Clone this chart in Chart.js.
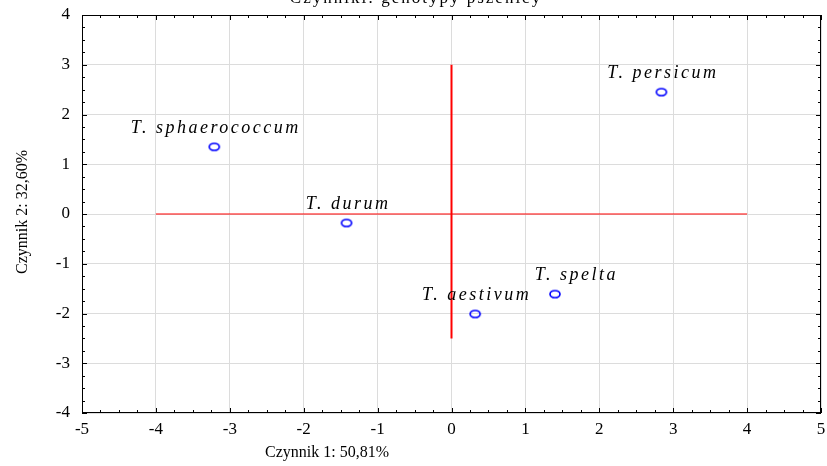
<!DOCTYPE html>
<html>
<head>
<meta charset="utf-8">
<script src="https://cdn.jsdelivr.net/npm/chart.js@4.4.0/dist/chart.umd.min.js"></script>
<style>
  html, body { margin: 0; padding: 0; background: #fff; }
  #wrap { width: 827px; height: 466px; }
</style>
</head>
<body>
<div id="wrap"><canvas id="pcaChart"></canvas></div>
<script>
// genotypes projected on factor plane
const names = ['T. sphaerococcum', 'T. durum', 'T. aestivum', 'T. spelta', 'T. persicum'];
const factor1 = [-3.21, -1.42, 0.32, 1.40, 2.84];
const factor2 = [1.35, -0.18, -2.01, -1.61, 2.45];

// red reference cross
const crossHX = [-4, 4];
const crossHY = [0, 0];
const crossVX = [0, 0];
const crossVY = [3, -2.5];

const xTicks = [-5, -4, -3, -2, -1, 0, 1, 2, 3, 4, 5];
const yTicks = [-4, -3, -2, -1, 0, 1, 2, 3, 4];

const titleText = 'Czynniki: genotypy pszenicy';
const xTitle = 'Czynnik 1: 50,81%';
const yTitle = 'Czynnik 2: 32,60%';

const serif = '"Liberation Serif", "Times New Roman", serif';

function ringImage() {
    const c = document.createElement('canvas');
    c.width = 14; c.height = 11;
    const g = c.getContext('2d');
    g.strokeStyle = '#0000ff';
    g.lineWidth = 1.7;
    g.beginPath();
    g.ellipse(7, 5.5, 5, 3.5, 0, 0, Math.PI * 2);
    g.stroke();
    return c;
}

// frame with inward ticks, titles
const framePlugin = {
    id: 'frame',
    beforeDatasetsDraw(chart) {
        const { ctx, chartArea: a, scales } = chart;
        ctx.save();
        ctx.strokeStyle = '#000';
        ctx.lineWidth = 1;
        ctx.strokeRect(a.left + 0.5, a.top + 0.5, a.right - a.left - 1, a.bottom - a.top - 1);
        ctx.beginPath();
        for (let v = -5; v <= 5.001; v += 0.25) {
            const px = Math.round(scales.x.getPixelForValue(v)) + 0.5;
            const len = Math.abs(v - Math.round(v)) < 1e-6 ? 5 : 3;
            ctx.moveTo(px, a.bottom); ctx.lineTo(px, a.bottom - len);
            ctx.moveTo(px, a.top); ctx.lineTo(px, a.top + len);
        }
        for (let v = -4; v <= 4.001; v += 0.25) {
            const py = Math.round(scales.y.getPixelForValue(v)) + 0.5;
            const len = Math.abs(v - Math.round(v)) < 1e-6 ? 5 : 3;
            ctx.moveTo(a.left, py); ctx.lineTo(a.left + len, py);
            ctx.moveTo(a.right, py); ctx.lineTo(a.right - len, py);
        }
        ctx.stroke();
        ctx.restore();
    },
    afterDraw(chart) {
        const { ctx } = chart;
        ctx.save();
        ctx.fillStyle = '#000';
        ctx.font = '17px ' + serif;
        ctx.textAlign = 'center';
        ctx.textBaseline = 'alphabetic';
        ctx.letterSpacing = '2px';
        ctx.fillText(titleText, 416, 3);
        ctx.font = '16px ' + serif;
        ctx.letterSpacing = '0px';
        ctx.fillText(xTitle, 327, 457);
        ctx.translate(23, 212);
        ctx.rotate(-Math.PI / 2);
        ctx.textBaseline = 'middle';
        ctx.fillText(yTitle, 0, 0);
        ctx.restore();
    }
};

// italic genotype names above their points
const labelShift = { 'T. spelta': 20 };
const labelPlugin = {
    id: 'pointNames',
    afterDatasetsDraw(chart) {
        const { ctx } = chart;
        const meta = chart.getDatasetMeta(0);
        ctx.save();
        ctx.fillStyle = '#000';
        ctx.font = 'italic 18px ' + serif;
        ctx.letterSpacing = '2.5px';
        ctx.textAlign = 'center';
        ctx.textBaseline = 'alphabetic';
        meta.data.forEach((pt, i) => {
            const dx = labelShift[names[i]] || 0;
            ctx.fillText(names[i], pt.x + dx + 1.5, pt.y - 14);
        });
        ctx.restore();
    }
};

const noPad = s => { s.paddingLeft = 0; s.paddingRight = 0; s.paddingTop = 0; s.paddingBottom = 0; };

const ctx = document.getElementById('pcaChart');
new Chart(ctx, {
    type: 'scatter',
    data: {
        datasets: [
            {
                label: 'genotypy',
                data: factor1.map((x, i) => ({ x: x, y: factor2[i] })),
                pointStyle: ringImage(),
                pointRadius: 5,
                order: 0
            },
            {
                label: 'osH',
                data: crossHX.map((x, i) => ({ x: x, y: crossHY[i] })),
                showLine: true,
                borderColor: '#ff0000',
                borderWidth: 1.2,
                pointRadius: 0,
                order: 2
            },
            {
                label: 'osV',
                data: crossVX.map((x, i) => ({ x: x, y: crossVY[i] })),
                showLine: true,
                borderColor: '#ff0000',
                borderWidth: 2,
                pointRadius: 0,
                order: 1
            }
        ]
    },
    options: {
        responsive: true,
        maintainAspectRatio: false,
        animation: false,
        events: [],
        layout: { padding: { top: 15, right: 3, left: 0, bottom: 0 } },
        plugins: {
            legend: { display: false },
            tooltip: { enabled: false }
        },
        scales: {
            x: {
                type: 'linear',
                min: -5,
                max: 5,
                afterBuildTicks: s => { s.ticks = xTicks.map(v => ({ value: v })); },
                afterFit: s => { s.height = 53; noPad(s); },
                ticks: { color: '#000', font: { family: serif, size: 17 }, padding: 6, maxRotation: 0 },
                grid: { color: '#dcdcdc', drawTicks: false },
                border: { display: false }
            },
            y: {
                type: 'linear',
                min: -4,
                max: 4,
                afterBuildTicks: s => { s.ticks = yTicks.map(v => ({ value: v })); },
                afterFit: s => { s.width = 82; noPad(s); },
                ticks: { color: '#000', font: { family: serif, size: 17 }, padding: 12 },
                grid: { color: '#dcdcdc', drawTicks: false },
                border: { display: false }
            }
        }
    },
    plugins: [framePlugin, labelPlugin]
});
</script>
</body>
</html>
